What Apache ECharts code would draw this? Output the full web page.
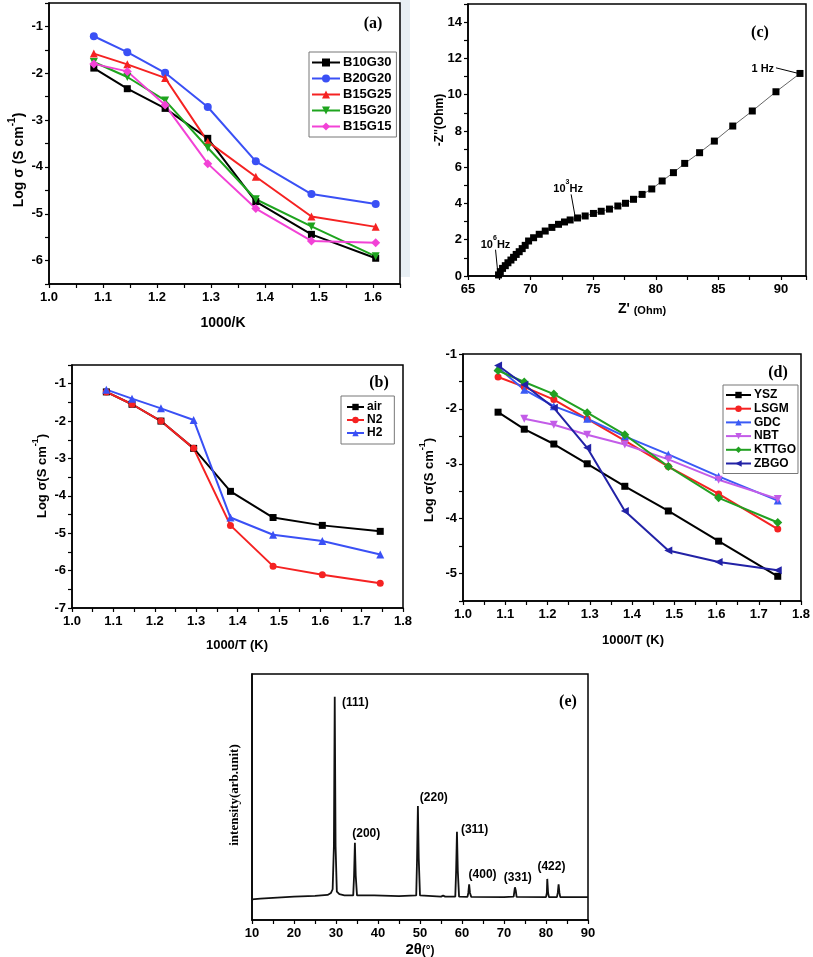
<!DOCTYPE html>
<html><head><meta charset="utf-8">
<script src="https://cdn.jsdelivr.net/npm/echarts@6/dist/echarts.min.js"></script>
<style>html,body{margin:0;padding:0;background:#fff}#c{width:813px;height:957px}</style>
</head><body><div id="c"></div>
<script>
// ---------- DATA ----------
// (a) conductivity vs 1000/K
const xA = [1.083, 1.145, 1.215, 1.294, 1.383, 1.486, 1.605];
const B10G30 = [-1.89, -2.33, -2.75, -3.39, -4.74, -5.44, -5.95];
const B20G20 = [-1.21, -1.55, -1.99, -2.72, -3.88, -4.58, -4.79];
const B15G25 = [-1.58, -1.81, -2.10, -3.46, -4.21, -5.06, -5.28];
const B15G20 = [-1.76, -2.08, -2.58, -3.59, -4.69, -5.27, -5.91];
const B15G15 = [-1.80, -1.96, -2.68, -3.93, -4.89, -5.58, -5.62];
// (b) atmosphere
const xB = [1.083, 1.145, 1.215, 1.294, 1.383, 1.486, 1.605, 1.745];
const air = [-1.22, -1.55, -2.00, -2.73, -3.88, -4.58, -4.79, -4.95];
const N2  = [-1.22, -1.55, -2.00, -2.73, -4.79, -5.88, -6.11, -6.34];
const H2  = [-1.16, -1.40, -1.66, -1.97, -4.58, -5.04, -5.21, -5.57];
// (c) impedance
const impZre = [67.44, 67.58, 67.76, 67.98, 68.19, 68.43, 68.64, 68.85, 69.09, 69.33, 69.57, 69.84, 70.24, 70.69, 71.17, 71.70, 72.23, 72.71, 73.16, 73.75, 74.36, 75.02, 75.64, 76.30, 76.97, 77.58, 78.22, 78.91, 79.68, 80.51, 81.41, 82.31, 83.50, 84.68, 86.15, 87.71, 89.60, 91.52];
const impZim = [0.06, 0.24, 0.42, 0.57, 0.73, 0.88, 1.03, 1.19, 1.34, 1.51, 1.69, 1.93, 2.11, 2.30, 2.48, 2.68, 2.85, 2.98, 3.09, 3.20, 3.31, 3.45, 3.57, 3.69, 3.86, 4.01, 4.23, 4.50, 4.80, 5.24, 5.70, 6.21, 6.80, 7.44, 8.27, 9.10, 10.16, 11.17];
// (d) comparison
const xD = [1.083, 1.145, 1.215, 1.294, 1.383, 1.486, 1.605, 1.745];
const YSZ   = [-2.06, -2.37, -2.64, -3.00, -3.41, -3.86, -4.41, -5.05];
const LSGM  = [-1.42, -1.60, -1.83, -2.18, -2.58, -3.05, -3.55, -4.19];
const GDC   = [-1.25, -1.65, -1.95, -2.18, -2.50, -2.83, -3.23, -3.67];
const NBT   = [null, -2.18, -2.29, -2.47, -2.65, -2.92, -3.29, -3.64];
const KTTGO = [-1.30, -1.51, -1.73, -2.07, -2.47, -3.05, -3.62, -4.07];
const ZBGO  = [-1.21, -1.56, -1.98, -2.71, -3.86, -4.58, -4.79, -4.94];
// (e) XRD
const xrd2theta = [10, 12, 15, 18, 20, 25, 28, 28.8, 29.2, 29.5, 29.7, 29.9, 30.2, 30.8, 32, 34.1, 34.3, 34.5, 34.7, 35.0, 38.5, 38.8, 39.1, 45, 49.1, 49.3, 49.5, 49.7, 50.0, 55, 55.5, 56, 58.4, 58.6, 58.8, 59.0, 59.3, 61.3, 61.5, 61.7, 61.9, 62.2, 70, 72.3, 72.5, 72.6, 72.8, 73.0, 80.0, 80.2, 80.3, 80.5, 80.7, 82.6, 82.8, 83.0, 83.2, 83.4, 90];
const xrdIntensity = [8.4, 8.7, 9.0, 9.3, 9.5, 9.8, 10.2, 11.0, 12.5, 30, 90.8, 30, 11.5, 10.5, 10.0, 10.0, 18, 31.4, 18, 10.0, 10.0, 10.5, 10.0, 9.7, 10.0, 25, 46.3, 25, 10.0, 9.5, 9.9, 9.5, 9.5, 20, 35.9, 20, 9.5, 9.4, 11, 14.5, 11, 9.4, 9.3, 9.5, 12, 13.3, 12, 9.4, 9.3, 11, 16.7, 11, 9.3, 9.3, 11, 14.5, 11, 9.3, 9.3];
const peakNames = ['(111)', '(200)', '(220)', '(311)', '(400)', '(331)', '(422)'];
const peakLabelX = [34.6, 37.2, 53.3, 63.0, 64.9, 73.3, 81.3];
const peakLabelY = [88.3, 35.2, 49.9, 36.6, 18.3, 17.0, 21.7];
// (c) frequency annotations (data coords)
const freqBase = ['10', '10', '1 Hz'];
const freqExp = ['6', '3', ''];
const freqUnit = ['Hz', 'Hz', ''];
const freqTextPos = [[67.2, 1.85], [73.0, 4.95], [88.55, 11.54]];
const freqArrows = [[67.4, 0.05, 67.2, 1.45], [73.56, 3.27, 73.24, 4.5], [91.4, 11.17, 89.6, 11.48]];

// ---------- HELPERS ----------
const F = '"Liberation Sans", Arial, sans-serif';
const FS = '"Liberation Serif", "Times New Roman", serif';
const zip = (xs, ys) => xs.map((x, i) => [x, ys[i]]).filter(p => p[1] !== null);

function axis(kind, gridIndex, min, max, step, labelStep, dec, show) {
  return {
    type: 'value', gridIndex, min, max, interval: step,
    axisLine: { show: true, onZero: false, lineStyle: { color: '#000', width: 1.5 } },
    axisTick: { show: show !== false, inside: false, length: 4, lineStyle: { color: '#000', width: 1.2 } },
    splitLine: { show: false },
    axisLabel: {
      show: show !== false, showMinLabel: true, showMaxLabel: true, hideOverlap: false,
      color: '#000', fontSize: 13, fontWeight: 'bold', fontFamily: F, margin: kind === 'x' ? 7 : 6,
      formatter: v => { const k = v / labelStep; if (Math.abs(k - Math.round(k)) > 1e-6) return ''; return (Math.round(k) * labelStep).toFixed(dec); }
    }
  };
}
function grid(left, top, width, height) {
  return { left, top, width, height, show: true, borderColor: '#000', borderWidth: 1.5, backgroundColor: 'transparent', containLabel: false, outerBoundsMode: 'none' };
}
function lineSeries(name, xi, data, color, symbol, size, rot, lw) {
  return {
    type: 'line', name, xAxisIndex: xi, yAxisIndex: xi, data,
    symbol, symbolSize: size, symbolRotate: rot || 0, showSymbol: true,
    itemStyle: { color, borderWidth: 0 }, lineStyle: { color, width: lw || 2 },
    emphasis: { disabled: true }, animation: false
  };
}
function legend(left, top, data, iw, ih, fs, gap, pad) {
  return {
    show: true, orient: 'vertical', left, top, data, itemWidth: iw, itemHeight: ih, itemGap: gap,
    padding: pad, borderColor: '#777', borderWidth: 1, selectedMode: false, backgroundColor: '#fff',
    lineStyle: { width: 2 },
    textStyle: { color: '#000', fontSize: fs, fontWeight: 'bold', fontFamily: F, padding: [0, 0, 0, -2] }
  };
}
function txt(x, y, text, size, opts) {
  opts = opts || {};
  return {
    type: 'text', x, y, rotation: opts.rot || 0, z: 100,
    style: Object.assign({
      text, fontSize: size, fontWeight: 'bold', fontFamily: opts.font || F, fill: '#000',
      align: 'center', verticalAlign: 'middle'
    }, opts.rich ? { rich: opts.rich } : {})
  };
}
const supRich = s => ({ b: { fontSize: s, fontWeight: 'bold', fontFamily: F, verticalAlign: 'bottom', lineHeight: s + 5 }, sup: { fontSize: s - 4, fontWeight: 'bold', fontFamily: F, verticalAlign: 'top', lineHeight: s + 5 }, s: { fontSize: s - 3, fontWeight: 'bold', fontFamily: F, verticalAlign: 'bottom', lineHeight: s + 5 } });
const freqLabel = i => '{b|' + freqBase[i] + '}' + (freqExp[i] ? '{sup|' + freqExp[i] + '}' : '') + (freqUnit[i] ? '{b|' + freqUnit[i] + '}' : '');

// ---------- CHART ----------
const chart = echarts.init(document.getElementById('c'), null, { renderer: 'canvas' });

const series = [
  // (a) grid 0
  lineSeries('B10G30', 0, zip(xA, B10G30), '#000000', 'rect', 7),
  lineSeries('B20G20', 0, zip(xA, B20G20), '#3a50f5', 'circle', 8),
  lineSeries('B15G25', 0, zip(xA, B15G25), '#f52222', 'triangle', 8),
  lineSeries('B15G20', 0, zip(xA, B15G20), '#1ea41e', 'triangle', 8, 180),
  lineSeries('B15G15', 0, zip(xA, B15G15), '#f242d6', 'diamond', 9),
  // (c) grid 1
  Object.assign(lineSeries('imp', 1, zip(impZre, impZim), '#000', 'rect', 7, 0, 1), {
    lineStyle: { color: '#666', width: 1 },
    markLine: {
      silent: true, animation: false, symbol: ['none', 'arrow'], symbolSize: [0, 6],
      lineStyle: { color: '#000', width: 1, type: 'solid' }, label: { show: false },
      data: freqArrows.map(a => [{ coord: [a[0], a[1]] }, { coord: [a[2], a[3]] }])
    },
    markPoint: {
      silent: true, animation: false, symbol: 'circle', symbolSize: 0,
      label: { show: true, position: 'inside', color: '#000', rich: supRich(11) },
      data: freqBase.map((t, i) => ({ coord: freqTextPos[i], value: 0, label: { formatter: freqLabel(i) } }))
    }
  }),
  // (b) grid 2
  lineSeries('air', 2, zip(xB, air), '#000000', 'rect', 7),
  lineSeries('N2', 2, zip(xB, N2), '#f52222', 'circle', 7),
  lineSeries('H2', 2, zip(xB, H2), '#3a50f5', 'triangle', 8),
  // (d) grid 3
  lineSeries('YSZ', 3, zip(xD, YSZ), '#000000', 'rect', 7),
  lineSeries('LSGM', 3, zip(xD, LSGM), '#f52222', 'circle', 7),
  lineSeries('GDC', 3, zip(xD, GDC), '#3a5af5', 'triangle', 8),
  lineSeries('NBT', 3, zip(xD, NBT), '#c35ce8', 'triangle', 8, 180),
  lineSeries('KTTGO', 3, zip(xD, KTTGO), '#22a022', 'diamond', 9),
  lineSeries('ZBGO', 3, zip(xD, ZBGO), '#2222a6', 'triangle', 8, 90),
  // (e) grid 4
  Object.assign(lineSeries('xrd', 4, zip(xrd2theta, xrdIntensity), '#111', 'none', 0, 0, 1.8), {
    showSymbol: false,
    markPoint: {
      silent: true, animation: false, symbol: 'circle', symbolSize: 0,
      label: { show: true, position: 'inside', color: '#000', fontSize: 12, fontWeight: 'bold', fontFamily: F, formatter: p => p.name },
      data: peakNames.map((n, i) => ({ name: n, coord: [peakLabelX[i], peakLabelY[i]], value: 0 }))
    }
  })
];

const option = {
  animation: false,
  backgroundColor: '#fff',
  grid: [
    grid(49, 3, 351, 281),    // a
    grid(468, 4, 338, 272),   // c
    grid(72, 365, 331, 243),  // b
    grid(463, 354, 338, 247), // d
    grid(252, 674, 336, 246)  // e
  ],
  xAxis: [
    axis('x', 0, 1.0, 1.65, 0.05, 0.1, 1),
    axis('x', 1, 65, 92, 2.5, 5, 0),
    axis('x', 2, 1.0, 1.8, 0.05, 0.1, 1),
    axis('x', 3, 1.0, 1.8, 0.05, 0.1, 1),
    axis('x', 4, 10, 90, 5, 10, 0)
  ],
  yAxis: [
    axis('y', 0, -6.5, -0.5, 0.5, 1, 0),
    axis('y', 1, 0, 15, 1, 2, 0),
    axis('y', 2, -7, -0.5, 0.5, 1, 0),
    axis('y', 3, -5.5, -1, 0.5, 1, 0),
    axis('y', 4, 0, 100, 10, 10, 0, false)
  ],
  legend: [
    legend(309, 52, ['B10G30', 'B20G20', 'B15G25', 'B15G20', 'B15G15'], 28, 10, 13, 3, [4, 5, 4, 2]),
    legend(341, 396, ['air', 'N2', 'H2'], 17, 8, 12, 1, [5, 12, 5, 5]),
    legend(723, 385, ['YSZ', 'LSGM', 'GDC', 'NBT', 'KTTGO', 'ZBGO'], 25, 8, 12, 1.7, [4, 2, 4, 2])
  ],
  series,
  graphic: [
    { type: 'rect', shape: { x: 400, y: 0, width: 10, height: 277 }, style: { fill: '#e8eff4' }, z: -1 },
    txt(373, 24, '(a)', 16, { font: FS }),
    txt(760, 33, '(c)', 16, { font: FS }),
    txt(379, 383, '(b)', 16, { font: FS }),
    txt(778, 373, '(d)', 16, { font: FS }),
    txt(568, 702, '(e)', 16, { font: FS }),
    txt(223, 323, '1000/K', 14),
    txt(17, 160, '{b|Log σ (S cm}{sup|-1}{b|)}', 14, { rot: Math.PI / 2, rich: supRich(14) }),
    txt(642, 307, "{b|Z'} {s|(Ohm)}", 14, { rich: supRich(14) }),
    txt(437, 120, "{b|-Z''(Ohm)}", 12, { rot: Math.PI / 2, rich: supRich(12) }),
    txt(237, 645, '1000/T (K)', 13),
    txt(40, 476, '{b|Log σ(S cm}{sup|-1}{b|)}', 13, { rot: Math.PI / 2, rich: supRich(13) }),
    txt(633, 640, '1000/T (K)', 13),
    txt(427, 480, '{b|Log σ(S cm}{sup|-1}{b|)}', 13, { rot: Math.PI / 2, rich: supRich(13) }),
    txt(420, 947, '{b|2θ}{s|(°)}', 15, { rich: supRich(15) }),
    txt(235, 795, 'intensity(arb.unit)', 13, { rot: Math.PI / 2, font: FS })
  ]
};
chart.setOption(option);
</script>
</body></html>
